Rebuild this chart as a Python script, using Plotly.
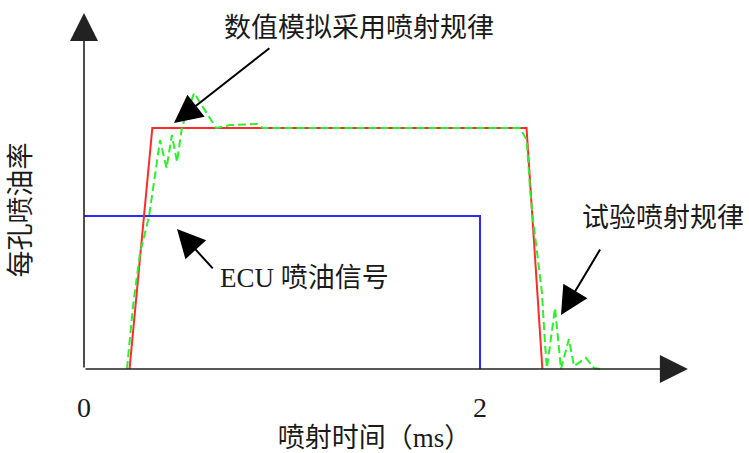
import plotly.graph_objects as go

# ---- data (time in ms, injection rate normalised to plateau = 1) ----
red_t = [0.23, 0.345, 2.235, 2.315]
red_q = [0.0, 1.0, 1.0, 0.0]

blue_t = [0.0, 2.0, 2.0]
blue_q = [0.635, 0.635, 0.0]

green_t = [0.217, 0.247, 0.283, 0.328, 0.364, 0.384, 0.417, 0.444, 0.470, 0.495,
           0.520, 0.556, 0.667, 0.737, 0.874, 0.904, 2.202, 2.236, 2.253, 2.268,
           2.293, 2.313, 2.328, 2.338, 2.379, 2.409, 2.449, 2.475, 2.535, 2.576, 2.606]
green_q = [0.0, 0.257, 0.481, 0.631, 0.834, 0.950, 0.834, 0.971, 0.859, 1.004,
           1.062, 1.145, 1.0, 1.012, 1.017, 1.0, 1.0, 0.950, 0.743, 0.618,
           0.452, 0.315, 0.108, 0.004, 0.253, 0.0, 0.124, 0.012, 0.046, 0.004, 0.0]

tick_vals = [0, 2]
tick_text = ["0", "2"]

FONT = "Liberation Serif, Noto Sans CJK SC, serif"
TXT = "#1a1a1a"

fig = go.Figure()
fig.add_trace(go.Scatter(x=blue_t, y=blue_q, mode="lines",
                         line=dict(color="#2b2bff", width=2), showlegend=False))
fig.add_trace(go.Scatter(x=red_t, y=red_q, mode="lines",
                         line=dict(color="#ff2a2a", width=2), showlegend=False))
fig.add_trace(go.Scatter(x=green_t, y=green_q, mode="lines",
                         line=dict(color="#2cf02c", width=2, dash="8px,4px"),
                         showlegend=False))

ann = []
# axis arrows
ann.append(dict(x=0, y=1.477, ax=0, ay=0, xref="x", yref="y", axref="x", ayref="y",
                text="", showarrow=True, arrowhead=2, arrowsize=3.5, arrowwidth=1.6,
                arrowcolor="#222222"))
ann.append(dict(x=3.05, y=0, ax=0, ay=0, xref="x", yref="y", axref="x", ayref="y",
                text="", showarrow=True, arrowhead=2, arrowsize=3.5, arrowwidth=1.6,
                arrowcolor="#222222"))
# pointer arrows
for (tx, ty, sx, sy) in [(0.4545, 1.0207, 0.944, 1.336),
                         (0.4697, 0.581, 0.657, 0.411),
                         (2.409, 0.224, 2.611, 0.502)]:
    ann.append(dict(x=tx, y=ty, ax=sx, ay=sy, xref="x", yref="y", axref="x", ayref="y",
                    text="", showarrow=True, arrowhead=2, arrowsize=2.8, arrowwidth=2,
                    arrowcolor="black"))
# labels
for (txt, lx, ly) in [("数值模拟采用喷射规律", 1.389, 1.415),
                      ("ECU 喷油信号", 1.116, 0.378),
                      ("试验喷射规律", 2.924, 0.627)]:
    ann.append(dict(x=lx, y=ly, xref="x", yref="y", text=txt, showarrow=False,
                    font=dict(family=FONT, size=27, color=TXT)))

fig.update_layout(
    width=749, height=453,
    margin=dict(l=0, r=0, t=0, b=0),
    paper_bgcolor="white", plot_bgcolor="white",
    annotations=ann,
    xaxis=dict(range=[-84/198, 665/198], domain=[0, 1], anchor="free", position=84/453,
               showgrid=False, zeroline=False, showline=False,
               tickvals=tick_vals, ticktext=tick_text, ticks="outside", ticklen=13,
               tickcolor="rgba(0,0,0,0)", tickfont=dict(family=FONT, size=28, color=TXT),
               title=dict(text="喷射时间（ms）", font=dict(family=FONT, size=27, color=TXT),
                          standoff=8)),
    yaxis=dict(range=[(369-420)/241, 369/241], domain=[1-420/453, 1], anchor="free",
               position=84/749, showgrid=False, zeroline=False, showline=False,
               showticklabels=False, ticks="",
               title=dict(text="每孔喷油率", font=dict(family=FONT, size=27, color=TXT),
                          standoff=44)),
)

fig.write_html("out.html")
